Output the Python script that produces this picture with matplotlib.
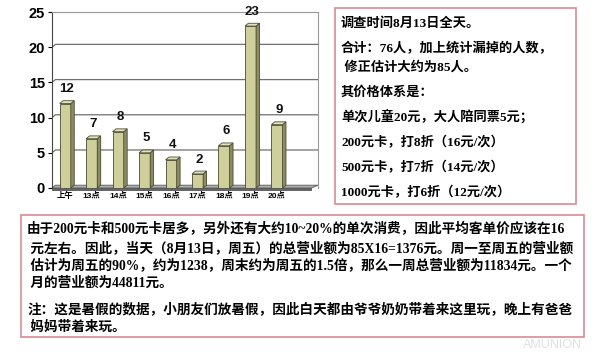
import matplotlib
matplotlib.use("Agg")
import matplotlib.pyplot as plt
from matplotlib.patches import Rectangle, Polygon

# data
slots = ["上午", "13点", "14点", "15点", "16点", "17点", "18点", "19点", "20点"]
visitors = [12, 7, 8, 5, 4, 2, 6, 23, 9]
yticks = [0, 5, 10, 15, 20, 25]

info_lines = [
    "调查时间8月13日全天。",
    "合计：76人，加上统计漏掉的人数，",
    " 修正估计大约为85人。",
    "其价格体系是：",
    "单次儿童20元，大人陪同票5元；",
    "200元卡，打8折（16元/次）",
    "500元卡，打7折（14元/次）",
    "1000元卡，打6折（12元/次）",
]
info_y = [24, 49, 67, 92, 118, 143, 168, 193]

note_lines = [
    "由于200元卡和500元卡居多，另外还有大约10~20%的单次消费，因此平均客单价应该在16",
    " 元左右。因此，当天（8月13日，周五）的总营业额为85X16=1376元。周一至周五的营业额",
    " 估计为周五的90%，约为1238，周末约为周五的1.5倍，那么一周总营业额为11834元。一个",
    " 月的营业额为44811元。",
    "注：这是暑假的数据，小朋友们放暑假，因此白天都由爷爷奶奶带着来这里玩，晚上有爸爸",
    " 妈妈带着来玩。",
]
note_y = [229, 248, 265, 283, 309, 327]

W, H = 600, 356
fam = ["Liberation Serif", "Noto Sans CJK SC"]
sans = ["Liberation Sans", "Noto Sans CJK SC"]


def fx(x):
    return x / W


def fy(y):
    return 1 - y / H


fig = plt.figure(figsize=(6, 3.56), dpi=100)
fig.patch.set_facecolor("white")

ax = fig.add_axes([fx(52), fy(188), (318 - 52) / W, (188 - 12) / H])
ax.set_xlim(-0.5, 9.55)
ax.set_ylim(0, 25)

dx, dy = 0.13, 0.4
bw = 0.42
front = "#cfcf9c"
side = "#8c8c62"
top = "#e4e4bc"
edge = "#4a4a30"

# back wall grid lines
for t in yticks[1:-1]:
    ax.plot([-0.5, -0.5 + dx, 9.55], [t, t + dy, t + dy], color="#707070", lw=0.9, zorder=1)

# floor slab
ax.add_patch(Polygon([(-0.5, 0), (9.3, 0), (9.55, dy), (-0.5 + dx, dy)], closed=True,
                     facecolor="#b0b0b0", edgecolor="#555555", lw=0.6, zorder=2, clip_on=False))
ax.add_patch(Polygon([(-0.5, 0), (9.3, 0), (9.3, -0.35), (-0.5, -0.35)], closed=True,
                     facecolor="#666666", edgecolor="#444444", lw=0.5, zorder=2, clip_on=False))

bars = ax.bar(range(len(slots)), visitors, width=bw, color=front, edgecolor=edge, lw=0.6, zorder=3)
for b, v in zip(bars, visitors):
    x0 = b.get_x()
    x1 = x0 + b.get_width()
    ax.add_patch(Polygon([(x1, 0), (x1 + dx, dy), (x1 + dx, v + dy), (x1, v)], closed=True,
                         facecolor=side, edgecolor=edge, lw=0.6, zorder=3))
    ax.add_patch(Polygon([(x0, v), (x0 + dx, v + dy), (x1 + dx, v + dy), (x1, v)], closed=True,
                         facecolor=top, edgecolor=edge, lw=0.6, zorder=3))
    ax.annotate(str(v), (b.get_x() + bw / 2 + dx / 2, v + dy), xytext=(0, 4), textcoords="offset points",
                ha="center", va="bottom", fontsize=9.5, fontweight="bold", family=sans, color="#111111")

ax.set_xticks(range(len(slots)))
ax.set_xticklabels(slots, fontsize=6, fontweight="bold", family=sans)
ax.set_yticks(yticks)
ax.set_yticklabels([str(t) for t in yticks], fontsize=10.5, fontweight="bold", family=sans)
ax.tick_params(axis="x", length=0, pad=3)
ax.tick_params(axis="y", length=3, pad=2)
for s in ["top", "right"]:
    ax.spines[s].set_color("#999999")
ax.spines["left"].set_color("#444444")
ax.spines["bottom"].set_visible(False)

# right info box
fig.patches.append(Rectangle((fx(335), fy(204)), (576 - 335) / W, (204 - 8) / H,
                             transform=fig.transFigure, facecolor="none", edgecolor="#d98a94", lw=1.2))
for line, y in zip(info_lines, info_y):
    fig.text(fx(341), fy(y), line, fontsize=9.5, fontweight="bold", family=fam, va="center", ha="left")

# bottom note box
fig.patches.append(Rectangle((fx(21), fy(337)), (584 - 21) / W, (337 - 215) / H,
                             transform=fig.transFigure, facecolor="none", edgecolor="#d98a94", lw=1.2))
for line, y in zip(note_lines, note_y):
    fig.text(fx(27), fy(y), line, fontsize=9.8, fontweight="bold", family=fam, va="center", ha="left")

# faint watermark
fig.text(fx(552), fy(345), "AMUNION", fontsize=9, color="#e0e0e0", family=sans, ha="center", va="center")

fig.savefig("out.png", dpi=100)
